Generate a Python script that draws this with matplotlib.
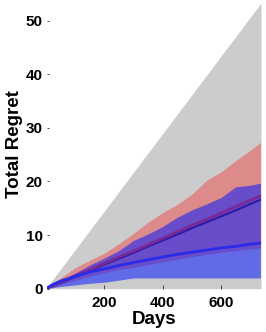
import numpy as np
import matplotlib
matplotlib.use("Agg")
import matplotlib.pyplot as plt

# values
days = [0, 25, 50, 100, 150, 200, 250, 300, 350, 400, 450, 500, 550, 600, 650, 700, 735]

worst_days = [0, 737]
worst_regret = [0, 53.3]

red_upper = [0, 1.0, 2.0, 3.9, 5.3, 6.6, 8.4, 10.3, 12.4, 14.2, 15.7, 17.6, 20.2, 21.8, 23.9, 25.8, 27.3]
red_lower = [0, 0.4, 0.8, 1.6, 2.3, 3.0, 3.6, 4.0, 4.5, 5.0, 5.5, 6.0, 6.4, 6.8, 7.1, 7.4, 7.6]
red_mean = [0, 0.6, 1.2, 2.4, 3.5, 4.7, 5.9, 7.0, 8.2, 9.4, 10.6, 11.8, 12.9, 14.1, 15.3, 16.5, 17.3]
navy_mean = [0, 0.55, 1.1, 2.2, 3.3, 4.5, 5.6, 6.7, 7.9, 9.0, 10.1, 11.3, 12.4, 13.5, 14.6, 15.8, 16.6]

blue_upper = [0, 0.8, 1.5, 2.9, 4.4, 5.7, 7.1, 9.0, 10.2, 11.6, 13.3, 14.7, 15.8, 17.0, 19.0, 19.3, 19.7]
blue_lower = [0, 0.2, 0.4, 0.7, 1.0, 1.2, 1.6, 2.0, 2.0, 2.0, 2.0, 2.0, 2.0, 2.0, 2.0, 2.0, 2.0]
blue_mean = [0, 0.8, 1.4, 2.3, 3.1, 3.7, 4.3, 4.9, 5.4, 5.9, 6.4, 6.8, 7.2, 7.6, 7.9, 8.3, 8.5]

xticks = [200, 400, 600]
yticks = [0, 10, 20, 30, 40, 50]

plt.rcParams["font.family"] = ["Liberation Sans", "DejaVu Sans"]
plt.rcParams["font.weight"] = "bold"

fig = plt.figure(figsize=(2.66, 3.32), dpi=100)
ax = fig.add_axes([47 / 266, 43.3 / 332, 214 / 266, 288.7 / 332])

ax.fill_between(worst_days, 0, worst_regret, color="#cccccc", linewidth=0)
ax.fill_between(days, red_lower, red_upper, color="#ff0000", alpha=0.32, linewidth=0)
ax.fill_between(days, blue_lower, blue_upper, color="#0a1aff", alpha=0.55, linewidth=0)
ax.plot(days, navy_mean, color="#2c1ca8", linewidth=1.6)
ax.plot(days, red_mean, color="#7a2896", linewidth=2.0)
ax.plot(days, blue_mean, color="#2a2ae8", linewidth=2.0)

ax.set_xlim(4, 737)
ax.set_ylim(0, 53.86)
ax.set_xticks(xticks)
ax.set_yticks(yticks)
for s in ax.spines.values():
    s.set_visible(False)
ax.tick_params(axis="x", direction="in", length=3, width=0.7, color="#444444", pad=5, labelsize=11)
ax.tick_params(axis="y", direction="in", length=1.5, width=0.7, color="#444444", pad=3, labelsize=11)
for lab in ax.get_xticklabels() + ax.get_yticklabels():
    lab.set_fontweight("bold")

ax.set_xlabel("Days", fontsize=13.5, fontweight="bold", labelpad=1)
ax.set_ylabel("Total Regret", fontsize=13.5, fontweight="bold", labelpad=2)

fig.savefig("out.png", dpi=100)
